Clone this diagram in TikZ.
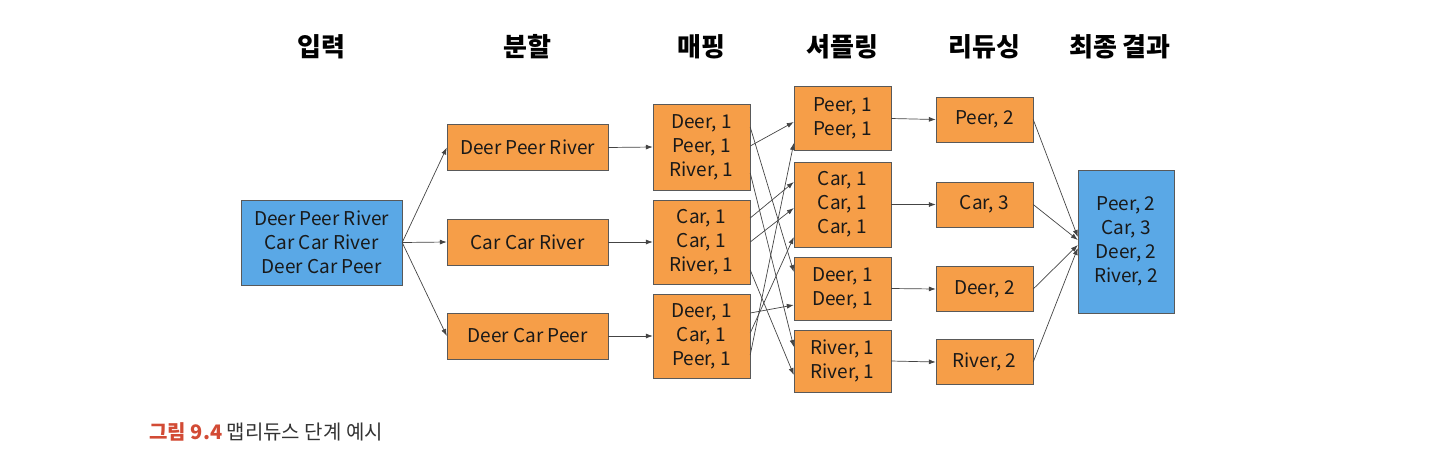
\documentclass[tikz,border=0pt]{standalone}
\usepackage{fontspec}
\setmainfont{Noto Sans CJK KR}
\usetikzlibrary{arrows.meta}

\definecolor{boxorange}{HTML}{F69E48}
\definecolor{boxblue}{HTML}{5AA8E6}
\definecolor{linegray}{HTML}{444444}
\definecolor{capred}{HTML}{D24B35}

\tikzset{
  orangebox/.style={draw=black!65, fill=boxorange, align=center, inner sep=0pt,
    font=\fontsize{19}{24}\selectfont, text=black!90},
  bluebox/.style={orangebox, fill=boxblue},
  header/.style={font=\bfseries\fontsize{26}{30}\selectfont},
  conn/.style={-{Latex[length=7pt,width=5pt]}, draw=linegray, line width=0.7pt},
}

\begin{document}
\begin{tikzpicture}[x=1pt, y=-1pt]
        \useasboundingbox (0,0) rectangle (1440,467);

        % Headers
        \node[header] (hin) at (321,47) {입력};
        \node[header] (hsplit) at (527.5,47) {분할};
        \node[header] (hmap) at (701.5,47) {매핑};
        \node[header] (hshuf) at (842.5,47) {셔플링};
        \node[header] (hred) at (984.5,47) {리듀싱};
        \node[header] (hres) at (1120,47) {최종 결과};

        % Input
        \node[bluebox, minimum width=161pt, minimum height=85pt] (in) at (321.5,242.5)
            {Deer Peer River\\Car Car River\\Deer Car Peer};

        % Split
        \node[orangebox, minimum width=161pt, minimum height=46pt] (sp1) at (527.5,147.5) {Deer Peer River};
        \node[orangebox, minimum width=161pt, minimum height=46pt] (sp2) at (527.5,242) {Car Car River};
        \node[orangebox, minimum width=161pt, minimum height=46pt] (sp3) at (527.5,336) {Deer Car Peer};

        % Mapping
        \node[orangebox, minimum width=97pt, minimum height=86pt] (m1) at (701.5,147) {Deer, 1\\Peer, 1\\River, 1};
        \node[orangebox, minimum width=97pt, minimum height=84pt] (m2) at (701.5,242) {Car, 1\\Car, 1\\River, 1};
        \node[orangebox, minimum width=97pt, minimum height=84pt] (m3) at (701.5,336) {Deer, 1\\Car, 1\\Peer, 1};

        % Shuffling
        \node[orangebox, minimum width=97pt, minimum height=64pt] (s1) at (842.5,118.5) {Peer, 1\\Peer, 1};
        \node[orangebox, minimum width=97pt, minimum height=85pt] (s2) at (842.5,204.5) {Car, 1\\Car, 1\\Car, 1};
        \node[orangebox, minimum width=97pt, minimum height=63pt] (s3) at (842.5,288.5) {Deer, 1\\Deer, 1};
        \node[orangebox, minimum width=97pt, minimum height=62pt] (s4) at (842.5,361) {River, 1\\River, 1};

        % Reducing
        \node[orangebox, minimum width=97pt, minimum height=45pt] (r1) at (984.5,119.5) {Peer, 2};
        \node[orangebox, minimum width=97pt, minimum height=45pt] (r2) at (984.5,204.5) {Car, 3};
        \node[orangebox, minimum width=97pt, minimum height=45pt] (r3) at (984.5,289) {Deer, 2};
        \node[orangebox, minimum width=97pt, minimum height=45pt] (r4) at (984.5,362) {River, 2};

        % Result
        \node[bluebox, minimum width=96pt, minimum height=143pt] (res) at (1126,241.5)
            {Peer, 2\\Car, 3\\Deer, 2\\River, 2};

        % Caption
        \node[anchor=west, font=\fontsize{20}{24}\selectfont, text=black!80] (cap) at (146,432)
            {\textcolor{capred}{\bfseries 그림 9.4} 맵리듀스 단계 예시};

        % Input lines
        \draw[conn] (in.east) -- (sp1.west);
        \draw[conn] (in.east) -- (sp2.west);
        \draw[conn] (in.east) -- (sp3.west);

        % Split lines
        \draw[conn] (sp1.east) -- (m1.west);
        \draw[conn] (sp2.east) -- (m2.west);
        \draw[conn] (sp3.east) -- (m3.west);

        % Mapping lines
        \draw[conn] ([yshift=20pt]m1.east) -- ([yshift=16.5pt]s3.west);
        \draw[conn] ([yshift=1pt]m1.east) -- ([yshift=-3.5pt]s1.west);
        \draw[conn] ([yshift=-26pt]m1.east) -- ([yshift=14pt]s4.west);

        \draw[conn] ([yshift=24pt]m2.east) -- ([yshift=22.5pt]s2.west);
        \draw[conn] ([yshift=0pt]m2.east) -- ([yshift=-3.5pt]s2.west);
        \draw[conn] ([yshift=-28pt]m2.east) -- ([yshift=-14pt]s4.west);

        \draw[conn] ([yshift=23pt]m3.east) -- ([yshift=-16.5pt]s3.west);
        \draw[conn] ([yshift=3pt]m3.east) -- ([yshift=-32.5pt]s2.west);
        \draw[conn] ([yshift=-19pt]m3.east) -- ([yshift=-24.5pt]s1.west);

        % Shuffling lines
        \draw[conn] (s1.east) -- (r1.west);
        \draw[conn] (s2.east) -- (r2.west);
        \draw[conn] (s3.east) -- (r3.west);
        \draw[conn] (s4.east) -- (r4.west);

        % Reducing lines
        \draw[conn] (r1.east) -- ([yshift=4.5pt]res.west);
        \draw[conn] (r2.east) -- ([yshift=1.5pt]res.west);
        \draw[conn] (r3.east) -- ([yshift=-3.5pt]res.west);
        \draw[conn] (r4.east) -- ([yshift=-6.5pt]res.west);

\end{tikzpicture}
\end{document}
